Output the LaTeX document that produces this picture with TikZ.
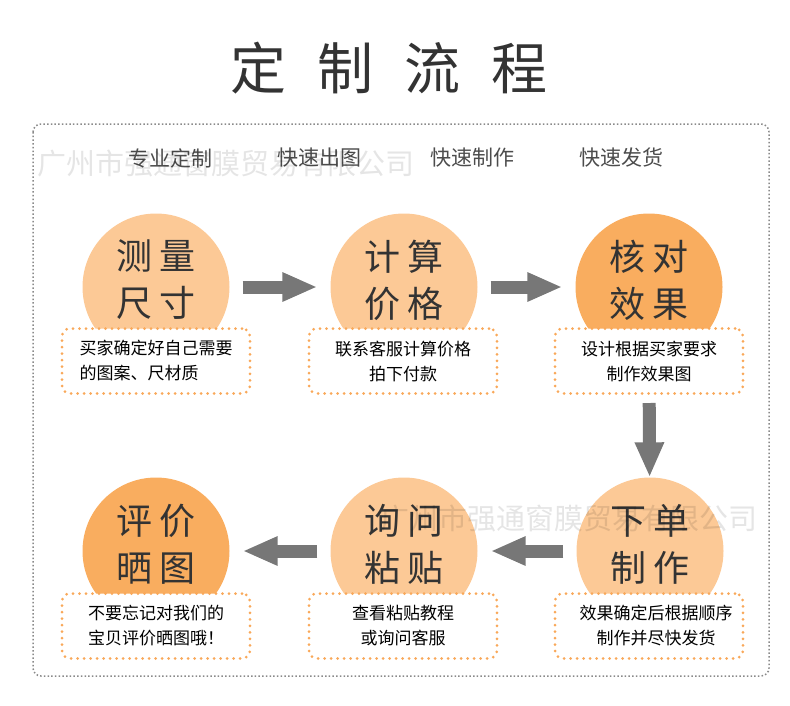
\documentclass[tikz,border=0pt]{standalone}
\usepackage{fontspec}
\newfontfamily\cjk{Noto Sans CJK SC}
\usetikzlibrary{arrows.meta}
\definecolor{lightorange}{HTML}{FCC996}
\definecolor{darkorange}{HTML}{F9AD5F}
\definecolor{dotorange}{HTML}{F9A859}
\definecolor{arrowgray}{HTML}{777777}
\definecolor{framegray}{HTML}{8A8A8A}
\definecolor{titlegray}{HTML}{333333}
\tikzset{
    stepcircle/.style={circle,minimum size=147pt,inner sep=0pt},
    steplabel/.style={font=\cjk\fontsize{36}{47}\selectfont,text=titlegray,align=center,inner sep=0pt},
    notebox/.style={draw=dotorange,fill=white,rounded corners=8pt,line width=3pt,
        dash pattern=on 0pt off 6.5pt,line cap=round,minimum width=188pt,minimum height=65pt,
        font=\cjk\fontsize{17}{25}\selectfont,inner sep=0pt},
    toplabel/.style={font=\cjk\fontsize{21}{24}\selectfont,text=black!70},
    flowarrow/.style={draw=arrowgray,line width=13pt,-{Triangle[length=35pt,width=27pt]},
        shorten <=13pt,shorten >=13pt},
    watermark/.style={font=\cjk\fontsize{29}{32}\selectfont,text=black,text opacity=0.1}
}
\begin{document}
\begin{tikzpicture}[x=1pt,y=-1pt]
    \useasboundingbox (0,0) rectangle (790,705);
    \node[font=\cjk\fontsize{56}{60}\selectfont,text=titlegray] (title) at (389,68)
        {定\hspace{31pt}制\hspace{31pt}流\hspace{31pt}程};
    \draw[framegray,line width=1.5pt,dash pattern=on 1.5pt off 2.2pt,rounded corners=8pt] (33,124) rectangle (769,676);

    \foreach \n/\x/\t in {1/170/专业定制,2/319/快速出图,3/472/快速制作,4/621/快速发货}
        \node[toplabel] (h\n) at (\x,158) {\t};

    %\foreach \n in {1,...,6} \draw[red] (c\n) circle (2pt);
    \foreach \n/\x/\y/\c/\t in {1/156/287/lightorange/{测\hspace{8pt}量\\尺\hspace{8pt}寸},
                                2/404/287/lightorange/{计\hspace{8pt}算\\价\hspace{8pt}格},
                                3/649/287/darkorange/{核\hspace{8pt}对\\效\hspace{8pt}果},
                                4/650/551/lightorange/{下\hspace{8pt}单\\制\hspace{8pt}作},
                                5/404/551/lightorange/{询\hspace{8pt}问\\粘\hspace{8pt}贴},
                                6/156/551/darkorange/{评\hspace{8pt}价\\晒\hspace{8pt}图}}
    {
        \node[stepcircle,fill=\c] (c\n) at (\x,\y) {};
        \node[steplabel] (t\n) at ([yshift=7pt]c\n.center) {\t};
    }

    \foreach \n/\x/\y/\a/\t in {1/156/361/left/{买家确定好自己需要\\的图案、尺材质},
                                2/403/361/center/{联系客服计算价格\\拍下付款},
                                3/649/361/center/{设计根据买家要求\\制作效果图},
                                4/649/626/center/{\hspace{14pt}效果确定后根据顺序\\\hspace{14pt}制作并尽快发货},
                                5/403/626/center/{查看粘贴教程\\或询问客服},
                                6/156/626/center/{不要忘记对我们的\\宝贝评价晒图哦！}}
        \node[notebox,align=\a] (b\n) at (\x,\y) {\t};

    \draw[flowarrow] (c1) -- (c2);
    \draw[flowarrow] (c2) -- (c3);
    \draw[flowarrow,shorten <=8pt,shorten >=0pt] (b3) -- (c4);
    \draw[flowarrow] (c4) -- (c5);
    \draw[flowarrow] (c5) -- (c6);

    \node[watermark] (w1) at (226,164) {广州市强通窗膜贸易有限公司};
    \node[watermark] (w2) at (569,518) {广州市强通窗膜贸易有限公司};
\end{tikzpicture}
\end{document}
